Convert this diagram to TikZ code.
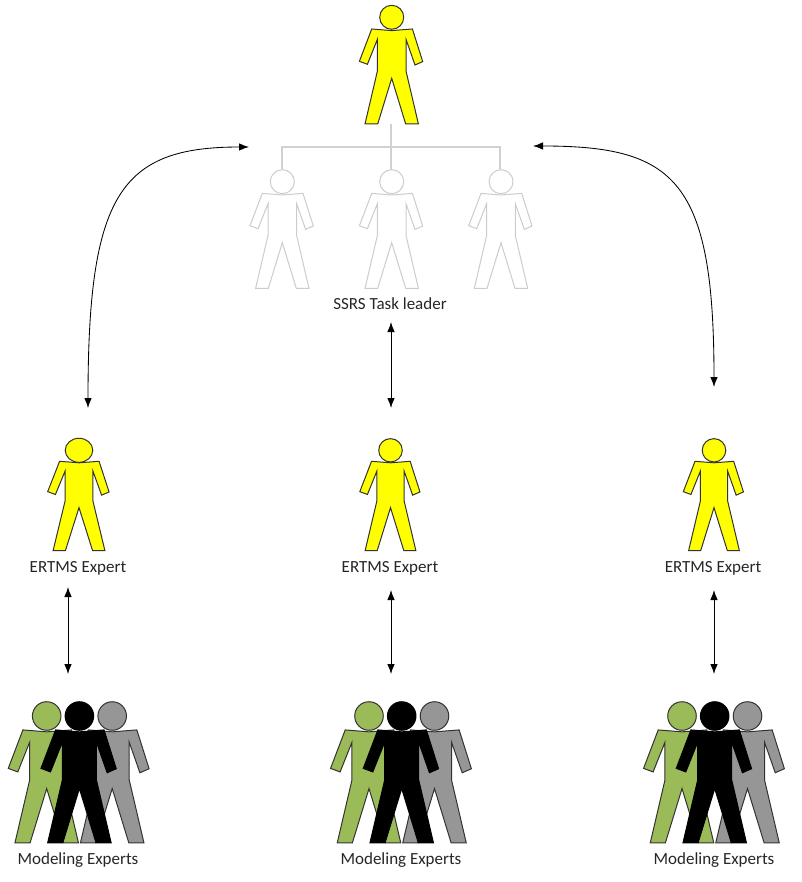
\documentclass[tikz,border=0pt]{standalone}
\usepackage{fontspec}
\setmainfont{Carlito}
\usetikzlibrary{arrows.meta}
\def\hrx{12}
\def\hry{12}
\tikzset{
  x=1pt,y=-1pt,
  lbl/.style={font=\fontsize{17}{20}\selectfont,text=black!85,inner sep=0pt,anchor=base},
  conn/.style={draw=black,line width=0.85pt,{Latex[length=10pt,width=7.5pt]}-{Latex[length=10pt,width=7.5pt]}},
  tree/.style={draw=black!18,line width=1.1pt},
  person/.pic={
    \path[pic actions] (0,0) ellipse ({\hrx} and {\hry});
    \path[pic actions] (-20,11.7) -- (0,13.3) -- (20.7,11.7) -- (31,44.3) -- (23.3,47.7) -- (14.3,22) -- (14.3,53.7)
      -- (26.7,106.7) -- (14,106.7) -- (0,61) -- (-14,106.7) -- (-26.7,106.7) -- (-14.3,53.7) -- (-14.3,22) -- (-24.3,47) -- (-32.3,44) -- cycle;
  }
}
\definecolor{pyel}{RGB}{255,255,0}
\definecolor{pgreen}{RGB}{155,187,89}
\definecolor{pgray}{RGB}{150,150,150}
\begin{document}
\begin{tikzpicture}
\useasboundingbox (0,0) rectangle (801,882);
% top leader
\pic[draw=black!80,fill=pyel,line width=1pt] at (391.7,17.3) {person};
% faded team
\foreach \x in {282.3,391.7,501}
  \pic[draw=black!20,fill=white,line width=1pt] at (\x,181.7) {person};
\coordinate (leader) at (391,124);
\coordinate (j) at (391,147);
\coordinate (ja) at (282,147);
\coordinate (jc) at (500,147);
\coordinate (ga) at (282,169.5);
\coordinate (gb) at (391,169.5);
\coordinate (gc) at (500,169.5);
\draw[tree] (leader) -- (gb);
\draw[tree] (ga) -- (ja) -- (jc) -- (gc);
% ERTMS experts
\begin{scope}
\def\hrx{14.2}\def\hry{12.8}
\pic[draw=black!80,fill=pyel,line width=1pt,xscale=0.97,yscale=0.94] at (79,450.3) {person};
\end{scope}
\begin{scope}
\def\hrx{12.4}\def\hry{12.4}
\foreach \x in {390.5,714}
  \pic[draw=black!80,fill=pyel,line width=1pt,xscale=0.95,yscale=0.94] at (\x,450.3) {person};
\end{scope}
% modeling groups
\foreach \x in {46.7,369,682}{
  \pic[draw=black!80,fill=pgreen,line width=1pt,scale=1.19] at (\x,716) {person};
  \pic[draw=black!80,fill=pgray,line width=1pt,scale=1.19] at (\x+65.5,716) {person};
  \pic[draw=black,fill=black,line width=1pt,scale=1.19] at (\x+32.7,716) {person};
}
% labels
\node[lbl] (task) at (390,309.5) {SSRS Task leader};
\node[lbl] (e1) at (78,572) {ERTMS Expert};
\node[lbl] (e2) at (390,572) {ERTMS Expert};
\node[lbl] (e3) at (713,572) {ERTMS Expert};
\node[lbl] (m1) at (78,864) {Modeling Experts};
\node[lbl] (m2) at (401,864) {Modeling Experts};
\node[lbl] (m3) at (714,864) {Modeling Experts};
% connector ends
\coordinate (a1) at (88,408);
\coordinate (a2) at (249,147);
\coordinate (b1) at (714,387);
\coordinate (b2) at (533,146);
\coordinate (c1) at (391,322);
\coordinate (c2) at (391,408);
\coordinate (d1) at (68,587);
\coordinate (d2) at (68,674);
\coordinate (f1) at (391,590);
\coordinate (f2) at (391,674);
\coordinate (g1) at (714,590);
\coordinate (g2) at (714,674);
\draw[conn] (a1) .. controls (88,195) and (120,147) .. (a2);
\draw[conn] (b1) .. controls (714,180) and (675,146) .. (b2);
\draw[conn] (c1) -- (c2);
\draw[conn] (d1) -- (d2);
\draw[conn] (f1) -- (f2);
\draw[conn] (g1) -- (g2);
\end{tikzpicture}
\end{document}
